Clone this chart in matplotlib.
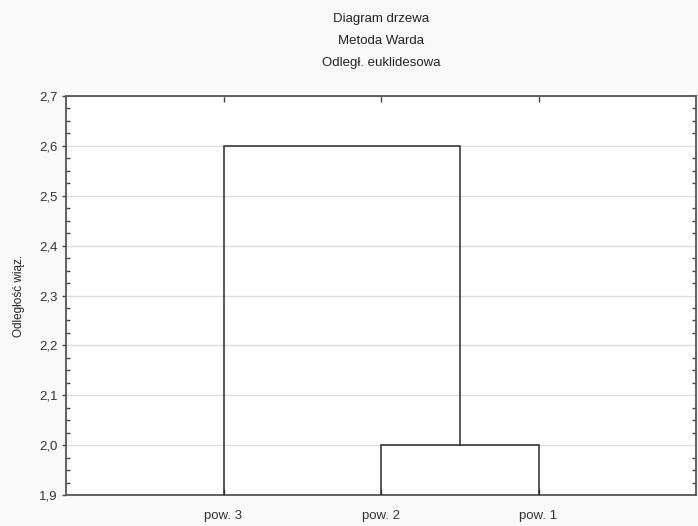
"""Ward-method dendrogram of three samples (Euclidean distance)."""

import matplotlib.pyplot as plt
from matplotlib.ticker import FuncFormatter, MultipleLocator

# leaves in drawing order, left to right
leaf_labels = ["pow. 3", "pow. 2", "pow. 1"]

# merges: (left node, right node, linkage distance)
# nodes 0..2 are leaves, 3.. are clusters created by earlier merges
merges = [
    (1, 2, 2.0),
    (0, 3, 2.6),
]

title_lines = ["Diagram drzewa", "Metoda Warda", "Odległ. euklidesowa"]
y_label = "Odległość wiąz."
y_limits = (1.9, 2.7)

plt.rcParams["font.family"] = ["Liberation Sans", "DejaVu Sans"]

fig = plt.figure(figsize=(6.98, 5.26), dpi=100, facecolor="#f9f9f9")
ax = fig.add_axes([66 / 698, 1 - 495 / 526, 630 / 698, 399 / 526])
ax.set_facecolor("white")

# node x position and height; leaves sit on the axis floor
node_x = [i + 1 for i in range(len(leaf_labels))]
node_h = [y_limits[0]] * len(leaf_labels)

for left, right, height in merges:
    x0, x1 = node_x[left], node_x[right]
    ax.plot(
        [x0, x0, x1, x1],
        [node_h[left], height, height, node_h[right]],
        color="#2b2b2b",
        linewidth=1.1,
        solid_joinstyle="miter",
        zorder=3,
    )
    node_x.append((x0 + x1) / 2)
    node_h.append(height)

ax.set_xlim(0, len(leaf_labels) + 1)
ax.set_ylim(*y_limits)

ax.set_xticks(range(1, len(leaf_labels) + 1))
ax.set_xticklabels(leaf_labels, fontsize=9.5, color="#333333")
ax.yaxis.set_major_locator(MultipleLocator(0.1))
ax.yaxis.set_minor_locator(MultipleLocator(0.025))
ax.yaxis.set_major_formatter(
    FuncFormatter(lambda v, _: f"{v:.1f}".replace(".", ","))
)

ax.tick_params(axis="x", which="major", bottom=True, top=True,
               direction="in", length=0, pad=11)
ax.tick_params(axis="x", which="major", top=True, length=4, width=1,
               color="#444444")
ax.tick_params(axis="y", which="major", direction="out", length=3,
               width=1, color="#444444", labelsize=9.5,
               labelcolor="#333333", pad=3)
ax.tick_params(axis="y", which="minor", direction="in", length=3,
               width=1, color="#444444", left=True, right=True)

ax.grid(axis="y", which="major", color="#dcdcdc", linewidth=1, zorder=0)
ax.set_axisbelow(True)

for spine in ax.spines.values():
    spine.set_color("#555555")
    spine.set_linewidth(1.3)

ax.set_ylabel(y_label, fontsize=8.5, color="#222222", labelpad=10)

for i, line in enumerate(title_lines):
    fig.text(381 / 698, 1 - (19 + 22 * i) / 526, line, ha="center",
             va="center", fontsize=9.5, color="#222222")

fig.savefig("out.png", dpi=100, facecolor=fig.get_facecolor())
